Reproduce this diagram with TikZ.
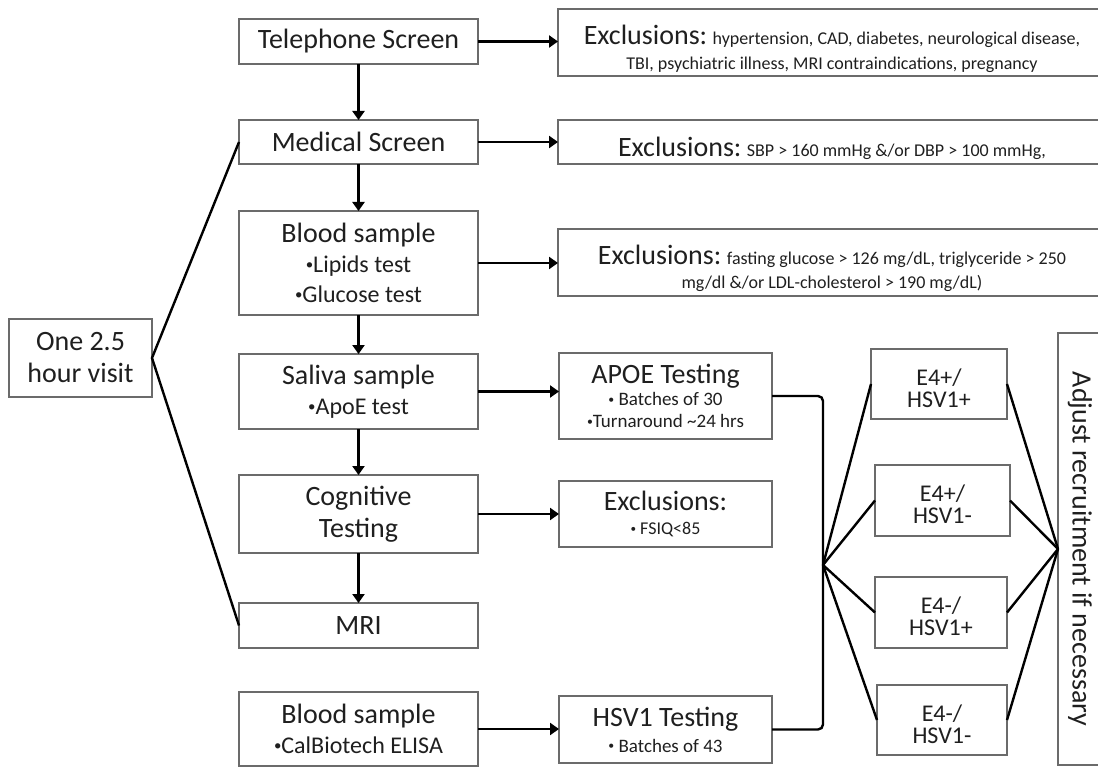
\documentclass[tikz,border=0pt]{standalone}
\usepackage{graphicx}
\usepackage{fontspec}
\setmainfont{Carlito}
\usetikzlibrary{arrows.meta}
\newcommand{\bul}{\raisebox{0.12em}{\scalebox{0.62}{•}}}
\begin{document}
\begin{tikzpicture}[x=1pt,y=-1pt,
  box/.style={draw=black!58, line width=1.1pt, inner sep=0pt, outer sep=0pt, align=center, text=black!88, font=\fontsize{28}{32}\selectfont},
  txt/.style={inner sep=0pt, outer sep=0pt, align=center, text=black!88},
  conn/.style={line width=2.4pt, black},
  arr/.style={conn, -{Triangle[length=9pt,width=12pt]}}]
\useasboundingbox (0,0) rectangle (1098,770);
\clip (0,0) rectangle (1098,770);
% left column
\node[box, minimum width=143pt, minimum height=78pt] (visit) at (80.5,358) {One 2.5\\hour visit};
\node[box, minimum width=239pt, minimum height=45pt] (tel) at (358.5,41.5) {Telephone Screen};
\node[box, minimum width=239pt, minimum height=44pt] (med) at (358.5,142) {Medical Screen};
\node[box, minimum width=239pt, minimum height=104pt, font=\fontsize{24}{30}\selectfont] (blood) at (358.5,263) {{\fontsize{28}{30}\selectfont Blood sample}\\\bul Lipids test\\\bul Glucose test};
\node[box, minimum width=239pt, minimum height=75pt, font=\fontsize{24}{30}\selectfont] (saliva) at (358.5,391.5) {{\fontsize{28}{30}\selectfont Saliva sample}\\\bul ApoE test};
\node[box, minimum width=239pt, minimum height=78pt] (cog) at (358.5,514) {Cognitive\\Testing};
\node[box, minimum width=239pt, minimum height=45pt] (mri) at (358.5,625.5) {MRI};
\node[box, minimum width=239pt, minimum height=74pt, font=\fontsize{24}{30}\selectfont] (blood2) at (358.5,729) {{\fontsize{28}{30}\selectfont Blood sample}\\\bul CalBiotech ELISA};
% exclusion boxes
\node[box, minimum width=548pt, minimum height=67pt] (ex1) at (832,42.5) {};
\node[txt, font=\fontsize{18}{25}\selectfont] (ex1t) at ([yshift=-6pt]ex1.center) {{\fontsize{28}{25}\selectfont Exclusions:} hypertension, CAD, diabetes, neurological disease,\\TBI, psychiatric illness, MRI contraindications, pregnancy};
\node[box, minimum width=548pt, minimum height=44pt] (ex2) at (832,142) {};
\node[txt, font=\fontsize{18}{25}\selectfont] (ex2t) at ([yshift=-6pt]ex2.center) {{\fontsize{28}{25}\selectfont Exclusions:} SBP > 160 mmHg \&/or DBP > 100 mmHg,};
\node[box, minimum width=548pt, minimum height=67pt] (ex3) at (832,262.5) {};
\node[txt, font=\fontsize{18}{24}\selectfont] (ex3t) at ([yshift=-6pt]ex3.center) {{\fontsize{28}{24}\selectfont Exclusions:} fasting glucose > 126 mg/dL, triglyceride > 250\\mg/dl \&/or LDL-cholesterol > 190 mg/dL)};
% middle column
\node[box, minimum width=213pt, minimum height=86pt, font=\fontsize{19}{22}\selectfont] (apoe) at (665.5,396) {{\fontsize{28}{30}\selectfont APOE Testing}\\\bul{} Batches of 30\\\bul Turnaround \textasciitilde 24 hrs};
\node[box, minimum width=213pt, minimum height=66pt, font=\fontsize{18}{24}\selectfont] (ex4) at (665.5,514) {{\fontsize{28}{30}\selectfont Exclusions:}\\\bul{} FSIQ<85};
\node[box, minimum width=213pt, minimum height=67pt, font=\fontsize{19}{26}\selectfont] (hsv) at (665.5,729.5) {{\fontsize{28}{30}\selectfont HSV1 Testing}\\\bul{} Batches of 43};
% groups
\node[box, minimum width=136pt, minimum height=70pt] (e1) at (939,384) {};
\node[box, minimum width=135pt, minimum height=71pt] (e2) at (942.5,500.5) {};
\node[box, minimum width=132pt, minimum height=71pt] (e3) at (941,612.5) {};
\node[box, minimum width=130pt, minimum height=70pt] (e4) at (942,720) {};
\node[txt, font=\fontsize{24}{22}\selectfont] (e1t) at ([yshift=-4pt]e1.center) {E4+/\\HSV1+};
\node[txt, font=\fontsize{24}{22}\selectfont] (e2t) at ([yshift=-4pt]e2.center) {E4+/\\HSV1-};
\node[txt, font=\fontsize{24}{22}\selectfont] (e3t) at ([yshift=-4pt]e3.center) {E4-/\\HSV1+};
\node[txt, font=\fontsize{24}{22}\selectfont] (e4t) at ([yshift=-4pt]e4.center) {E4-/\\HSV1-};
\node[box, minimum width=432pt, minimum height=44pt, rotate=-90] (adj) at (1080,549) {Adjust recruitment if necessary};
\coordinate (fan) at (823,565);
% connectors
\draw[arr] (tel) -- (med);
\draw[arr] (med) -- (blood);
\draw[arr] (blood) -- (saliva);
\draw[arr] (saliva) -- (cog);
\draw[arr] (cog) -- (mri);
\draw[arr] (tel.east) -- (tel.east -| ex1.west);
\draw[arr] (med.east) -- (med.east -| ex2.west);
\draw[arr] (blood.east) -- (blood.east -| ex3.west);
\draw[arr] (saliva.east) -- (saliva.east -| apoe.west);
\draw[arr] (cog.east) -- (cog.east -| ex4.west);
\draw[arr] (blood2.east) -- (blood2.east -| hsv.west);
\draw[conn] (med.west) -- (visit.east) -- (mri.west);
\draw[conn, rounded corners=5pt] (apoe.east) -| (fan) |- (hsv.east);
\foreach \n in {e1,e2,e3,e4} {
  \draw[conn] (fan) -- (\n.west);
  \draw[conn] (\n.east) -- (adj.south);
}
\end{tikzpicture}
\end{document}
